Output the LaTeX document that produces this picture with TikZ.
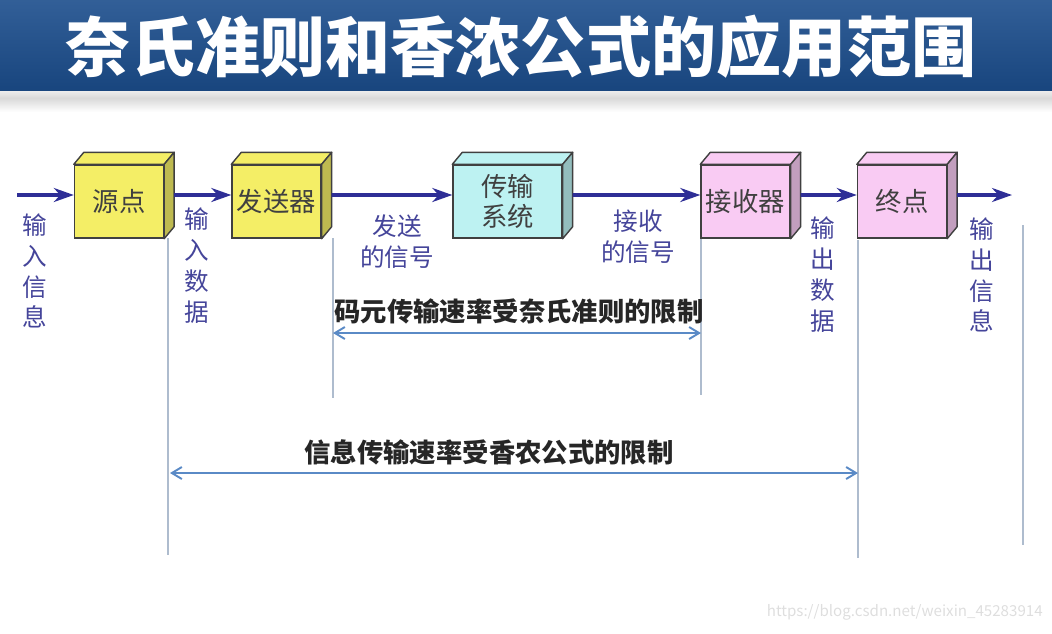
\documentclass[tikz,border=0pt]{standalone}
\usepackage{fontspec}
\setmainfont{Noto Sans CJK SC}
\usetikzlibrary{positioning, arrows.meta}

\definecolor{titleblue}{HTML}{1B4D8C}
\definecolor{flowblue}{HTML}{2E2E96}
\definecolor{labelblue}{HTML}{45459A}
\definecolor{spanblue}{HTML}{5A8AC6}
\definecolor{guidegray}{HTML}{AEBCCE}
\definecolor{srcyellow}{HTML}{F4EE66}
\definecolor{chancyan}{HTML}{BDF2F2}
\definecolor{rcvpink}{HTML}{F9CBF3}

\begin{document}
\begin{tikzpicture}[
  x=0.02cm, y=-0.02cm,
  box/.style={draw=black!75, line width=0.8pt, minimum width=1.78cm, minimum height=1.46cm,
    inner sep=0pt, align=center, text=black!75, font=\fontsize{15}{17}\selectfont},
  flow/.style={-{Stealth[length=4mm, width=2.8mm]}, flowblue, line width=2.2pt},
  lbl/.style={text=labelblue, align=center, inner sep=0pt, font=\fontsize{14}{17.6}\selectfont},
  guide/.style={guidegray, line width=0.8pt},
  span/.style={{Straight Barb[length=2mm, width=2.4mm]}-{Straight Barb[length=2mm, width=2.4mm]}, spanblue, line width=1.1pt},
  limit/.style={inner sep=0pt, text=black!85, font=\fontsize{15}{17}\selectfont\bfseries},
]
  \useasboundingbox (0,0) rectangle (1052,633);

  % title bar
  \shade[top color=white, bottom color=white, middle color=gray!30] (0,84) rectangle (1052,112);
  \shade[top color=titleblue!90!white, bottom color=titleblue!90!black] (0,0) rectangle (1052,90);
  \node[text=white, font=\fontsize{37}{42}\selectfont\bfseries] (title) at (521,47) {奈氏准则和香浓公式的应用范围};

  % guide lines
  \draw[guide] (168,238) -- (168,555);
  \draw[guide] (333,238) -- (333,398);
  \draw[guide] (701,238) -- (701,395);
  \draw[guide] (858,240) -- (858,558);
  \draw[guide] (1023,225) -- (1023,545);

  % blocks
  \node[box, fill=srcyellow] (src) at (119,201.5) {源点};
  \node[box, fill=srcyellow] (snd) at (276.5,201.5) {发送器};
  \node[box, fill=chancyan, minimum width=2.18cm] (chan) at (507.5,201.5) {传输\\系统};
  \node[box, fill=rcvpink] (rcv) at (745.5,201.5) {接收器};
  \node[box, fill=rcvpink] (dst) at (902,201.5) {终点};

  \foreach \n/\c in {src/srcyellow, snd/srcyellow, chan/chancyan, rcv/rcvpink, dst/rcvpink}{
    \filldraw[fill=\c, draw=black!75, line width=0.8pt, line join=round]
      (\n.north west) -- ++(10,-12) -- ([shift={(10,-12)}]\n.north east) -- (\n.north east) -- cycle;
    \filldraw[fill=\c!78!black, draw=black!75, line width=0.8pt, line join=round]
      (\n.north east) -- ++(10,-12) -- ([shift={(10,-12)}]\n.south east) -- (\n.south east) -- cycle;
  }

  % signal flow
  \coordinate (in) at (17,195);
  \coordinate (out) at (1012,195);
  \draw[flow] (in) -- ([yshift=0.13cm]src.west);
  \draw[flow] ([shift={(10,-6.5)}]src.east) -- ([yshift=0.13cm]snd.west);
  \draw[flow] ([shift={(10,-6.5)}]snd.east) -- ([yshift=0.13cm]chan.west);
  \draw[flow] ([shift={(10,-6.5)}]chan.east) -- ([yshift=0.13cm]rcv.west);
  \draw[flow] ([shift={(10,-6.5)}]rcv.east) -- ([yshift=0.13cm]dst.west);
  \draw[flow] ([shift={(10,-6.5)}]dst.east) -- (out);

  % labels
  \node[lbl] (inInfo)   at (35,271)  {输\\入\\信\\息};
  \node[lbl] (inData)   at (197,266) {输\\入\\数\\据};
  \node[lbl] (txSig)    at (397,242) {发送\\的信号};
  \node[lbl] (rxSig)    at (638,237) {接收\\的信号};
  \node[lbl] (outData)  at (823,275) {输\\出\\数\\据};
  \node[lbl] (outInfo)  at (982,275) {输\\出\\信\\息};

  % ranges
  \coordinate (nyqL) at (333,333);
  \coordinate (nyqR) at (701,333);
  \coordinate (shaL) at (170,473);
  \coordinate (shaR) at (858,473);
  \draw[span] (nyqL) -- (nyqR);
  \draw[span] (shaL) -- (shaR);
  \node[limit] (nyqText) at (519,311) {码元传输速率受奈氏准则的限制};
  \node[limit] (shaText) at (489,452) {信息传输速率受香农公式的限制};

  \node[anchor=east, inner sep=0pt, text=black!13, font=\fontsize{8.6}{10}\selectfont] (mark) at (1043,612) {https://blog.csdn.net/weixin\_45283914};
\end{tikzpicture}
\end{document}
